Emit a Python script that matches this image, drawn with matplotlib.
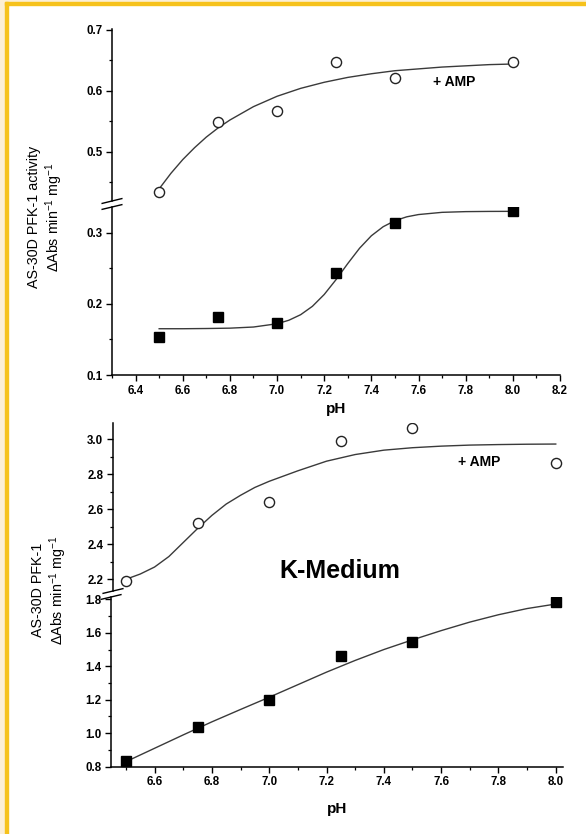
import matplotlib.pyplot as plt
from matplotlib.patches import Rectangle
from matplotlib.ticker import MultipleLocator

plt.rcParams['font.family'] = ['Liberation Sans', 'DejaVu Sans']
plt.rcParams['mathtext.fontset'] = 'custom'
plt.rcParams['mathtext.rm'] = 'Liberation Sans'
plt.rcParams['mathtext.it'] = 'Liberation Sans:italic'

# ---- data: top panel ----
ph = [6.5, 6.75, 7.0, 7.25, 7.5, 8.0]
top_amp = [0.434, 0.549, 0.567, 0.648, 0.621, 0.648]
top_ctrl = [0.153, 0.182, 0.173, 0.243, 0.314, 0.330]

fit_x_amp_top = [6.5, 6.55, 6.6, 6.65, 6.7, 6.75, 6.8, 6.9, 7.0, 7.1, 7.2, 7.3, 7.4,
                 7.5, 7.6, 7.7, 7.8, 7.9, 8.0]
fit_y_amp_top = [0.439, 0.4645, 0.487, 0.5065, 0.524, 0.539, 0.552, 0.574, 0.591, 0.604,
                 0.614, 0.622, 0.628, 0.633, 0.636, 0.639, 0.641, 0.643, 0.644]
fit_x_ctrl_top = [6.5, 6.6, 6.7, 6.8, 6.9, 7.0, 7.05, 7.1, 7.15, 7.2, 7.25, 7.3, 7.35,
                  7.4, 7.45, 7.5, 7.55, 7.6, 7.7, 7.8, 7.9, 8.0]
fit_y_ctrl_top = [0.165, 0.165, 0.1653, 0.1658, 0.1674, 0.172, 0.1769, 0.1847, 0.1965,
                  0.2131, 0.2339, 0.2566, 0.2781, 0.2956, 0.3083, 0.3168, 0.3222,
                  0.3254, 0.3285, 0.3295, 0.3298, 0.3299]

# ---- data: bottom panel (K-Medium) ----
bot_amp = [2.19, 2.523, 2.642, 2.99, 3.065, 2.863]
bot_ctrl = [0.834, 1.04, 1.198, 1.463, 1.545, 1.782]

fit_x_amp_bot = [6.5, 6.55, 6.6, 6.65, 6.7, 6.75, 6.8, 6.85, 6.9, 6.95, 7.0, 7.1, 7.2,
                 7.3, 7.4, 7.5, 7.6, 7.7, 7.8, 7.9, 8.0]
fit_y_amp_bot = [2.20, 2.23, 2.27, 2.33, 2.41, 2.49, 2.565, 2.63, 2.68, 2.725, 2.76,
                 2.82, 2.875, 2.913, 2.938, 2.952, 2.961, 2.967, 2.970, 2.972, 2.973]
fit_x_ctrl_bot = [6.5, 6.6, 6.7, 6.8, 6.9, 7.0, 7.1, 7.2, 7.3, 7.4, 7.5, 7.6, 7.7, 7.8,
                  7.9, 8.0]
fit_y_ctrl_bot = [0.830, 0.910, 0.990, 1.068, 1.142, 1.215, 1.290, 1.365, 1.435, 1.500,
                  1.558, 1.613, 1.664, 1.708, 1.745, 1.772]

W, H = 586, 834
fig = plt.figure(figsize=(W / 100, H / 100), dpi=100)
fig.patch.set_facecolor('white')

# frame decoration
cream = '#fcefd4'
gold = '#f6c21c'
fig.patches.append(Rectangle((0, 0), 5 / W, 1, transform=fig.transFigure, color=cream, zorder=-5))
fig.patches.append(Rectangle((0, 1 - 2 / H), 1, 2 / H, transform=fig.transFigure, color=cream, zorder=-5))
fig.patches.append(Rectangle((5 / W, 0), 3 / W, 1 - 2 / H, transform=fig.transFigure, color=gold, zorder=-4))
fig.patches.append(Rectangle((5 / W, 1 - 5 / H), 1, 3 / H, transform=fig.transFigure, color=gold, zorder=-4))


def px_axes(x0, x1, y_top, y_bot):
    return fig.add_axes([x0 / W, 1 - y_bot / H, (x1 - x0) / W, (y_bot - y_top) / H])


def style(ax, xmaj, xmin, ymaj, ymin, show_x):
    for s in ['top', 'right']:
        ax.spines[s].set_visible(False)
    ax.spines['left'].set_linewidth(1.1)
    ax.spines['bottom'].set_linewidth(1.1)
    ax.xaxis.set_major_locator(MultipleLocator(xmaj))
    ax.xaxis.set_minor_locator(MultipleLocator(xmin))
    ax.yaxis.set_major_locator(MultipleLocator(ymaj))
    ax.yaxis.set_minor_locator(MultipleLocator(ymin))
    ax.tick_params(which='major', length=4.5, width=1.0, labelsize=8.3, pad=2.5)
    ax.tick_params(which='minor', length=2.4, width=0.9)
    if not show_x:
        ax.spines['bottom'].set_visible(False)
        ax.tick_params(axis='x', which='both', bottom=False, labelbottom=False)
    for lab in ax.get_xticklabels() + ax.get_yticklabels():
        lab.set_fontweight('bold')
    ax.patch.set_alpha(0)


def break_marks(ax_low, ax_high):
    # two slanted strokes across the y spine, in the gap between segments
    for ax, yy in [(ax_high, 0.0), (ax_low, 1.0)]:
        ax.plot([-0.022, 0.022], [yy - 0.014, yy + 0.014], transform=ax.transAxes,
                color='black', lw=1.0, clip_on=False)


line_kw = dict(color='#3a3a3a', lw=1.0, zorder=2)
circ_kw = dict(ls='none', marker='o', ms=7.3, mfc='white', mec='#222222', mew=1.0, zorder=3)
sq_kw = dict(ls='none', marker='s', ms=7, mfc='black', mec='black', zorder=3)

# ---- top panel ----
a_hi = px_axes(112, 560, 28.7, 201)
a_lo = px_axes(112, 560, 207, 375)
for ax in (a_hi, a_lo):
    ax.set_xlim(6.3, 8.2)
a_hi.set_ylim(0.419, 0.702)
a_lo.set_ylim(0.1, 0.336)
style(a_hi, 0.2, 0.1, 0.1, 0.05, False)
style(a_lo, 0.2, 0.1, 0.1, 0.05, True)
a_hi.plot(fit_x_amp_top, fit_y_amp_top, **line_kw)
a_hi.plot(ph, top_amp, **circ_kw)
a_lo.plot(fit_x_ctrl_top, fit_y_ctrl_top, **line_kw)
a_lo.plot(ph, top_ctrl, **sq_kw)
a_hi.text(7.66, 0.615, '+ AMP', fontsize=10, fontweight='bold', va='center', ha='left')
a_lo.set_xlabel('pH', fontsize=11, fontweight='bold', labelpad=4)
break_marks(a_lo, a_hi)
fig.text(46 / W, 1 - 217 / H, 'AS-30D PFK-1 activity\n$\\Delta$Abs min$^{-1}$ mg$^{-1}$',
         rotation=90, ha='center', va='center', fontsize=10.3, linespacing=1.2)

# ---- bottom panel ----
b_hi = px_axes(113, 563.5, 422.7, 591)
b_lo = px_axes(111, 563.5, 597, 766.7)
b_hi.set_xlim(6.455, 8.027)
b_lo.set_xlim(6.448, 8.027)
b_hi.set_ylim(2.133, 3.095)
b_lo.set_ylim(0.8, 1.814)
style(b_hi, 0.2, 0.1, 0.2, 0.1, False)
style(b_lo, 0.2, 0.1, 0.2, 0.1, True)
b_hi.plot(fit_x_amp_bot, fit_y_amp_bot, **line_kw)
b_hi.plot(ph, bot_amp, **circ_kw)
b_lo.plot(fit_x_ctrl_bot, fit_y_ctrl_bot, **line_kw)
b_lo.plot(ph, bot_ctrl, **sq_kw)
b_hi.text(7.66, 2.872, '+ AMP', fontsize=10, fontweight='bold', va='center', ha='left')
b_hi.text(7.245, 2.245, 'K-Medium', fontsize=18, fontweight='bold', va='center', ha='center')
b_lo.set_xlabel('pH', fontsize=11, fontweight='bold', labelpad=10)
break_marks(b_lo, b_hi)
fig.text(50 / W, 1 - 590 / H, 'AS-30D PFK-1\n$\\Delta$Abs min$^{-1}$ mg$^{-1}$',
         rotation=90, ha='center', va='center', fontsize=10.3, linespacing=1.2)

fig.savefig('out.png', dpi=100)
